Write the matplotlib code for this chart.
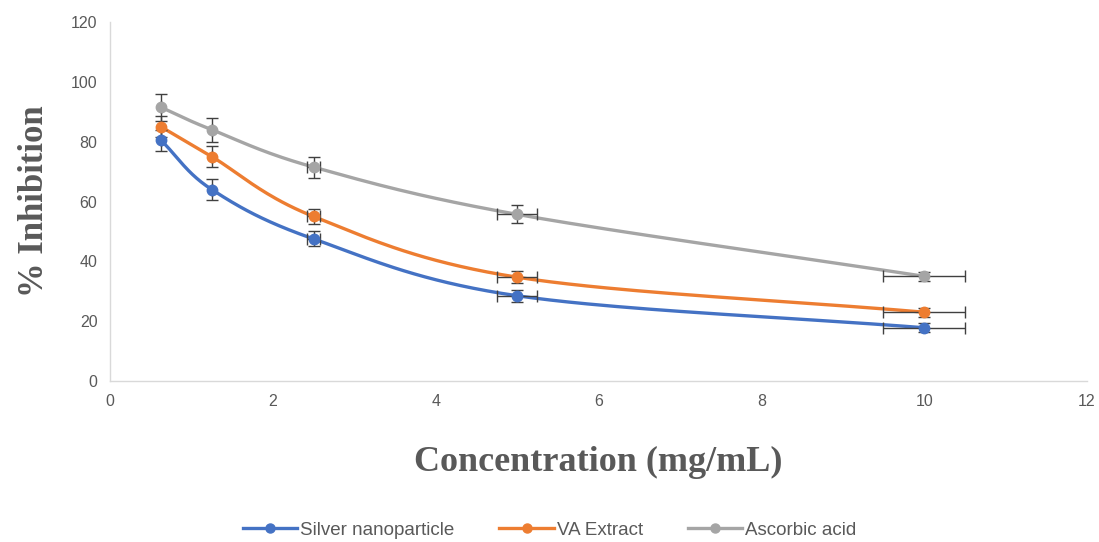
import numpy as np
import matplotlib
matplotlib.use("Agg")
import matplotlib.pyplot as plt
from matplotlib.lines import Line2D

# ── data ─────────────────────────────────────
conc = [0.625, 1.25, 2.5, 5, 10]
silver = [80.5, 64.0, 47.5, 28.5, 17.8]
va_extract = [85.0, 75.0, 55.0, 34.7, 23.0]
ascorbic = [91.5, 84.0, 71.5, 55.7, 35.0]
y_err_silver = [3.5, 3.5, 2.5, 2.0, 1.5]
y_err_va = [3.5, 3.5, 2.5, 2.0, 1.5]
y_err_asc = [4.5, 4.0, 3.5, 3.0, 1.5]
x_err = [0.0, 0.0, 0.08, 0.25, 0.5]

labels = ["Silver nanoparticle", "VA Extract", "Ascorbic acid"]
colors = ["#4472C4", "#ED7D31", "#A5A5A5"]

# pixels per unit (used only to smooth in screen-like space)
SX, SY = 81.4, 2.99


def smooth(xs, ys, n=40):
    """Catmull-Rom smoothing similar to Excel's smoothed line."""
    px = np.array(xs, float) * SX
    py = np.array(ys, float) * SY
    P = np.column_stack([px, py])
    P = np.vstack([P[0] - (P[1] - P[0]), P, P[-1] + (P[-1] - P[-2])])
    out = []
    for i in range(1, len(P) - 2):
        p0, p1, p2, p3 = P[i - 1], P[i], P[i + 1], P[i + 2]
        t = np.linspace(0, 1, n)[:, None]
        seg = 0.5 * ((2 * p1) + (-p0 + p2) * t +
                     (2 * p0 - 5 * p1 + 4 * p2 - p3) * t ** 2 +
                     (-p0 + 3 * p1 - 3 * p2 + p3) * t ** 3)
        out.append(seg)
    out = np.vstack(out)
    return out[:, 0] / SX, out[:, 1] / SY


fig = plt.figure(figsize=(10.99, 5.42), dpi=100)
ax = fig.add_axes([110 / 1099, 1 - 381 / 542, (1087 - 110) / 1099, (381 - 22) / 542])

series = [(silver, y_err_silver), (va_extract, y_err_va), (ascorbic, y_err_asc)]
for (ys, ye), col in zip(series, colors):
    sx, sy = smooth(conc, ys)
    ax.plot(sx, sy, color=col, lw=2.4, zorder=2)
    ax.errorbar(conc, ys, yerr=ye, xerr=x_err, fmt="none", ecolor="#404040",
                elinewidth=1.0, capsize=4, capthick=1.0, zorder=3)
    ax.plot(conc, ys, "o", color=col, ms=7.5, zorder=4)

ax.set_xlim(0, 12)
ax.set_ylim(0, 120)
ax.set_xticks(range(0, 13, 2))
ax.set_yticks(range(0, 121, 20))
for s in ["top", "right"]:
    ax.spines[s].set_visible(False)
for s in ["left", "bottom"]:
    ax.spines[s].set_color("#D9D9D9")
    ax.spines[s].set_linewidth(1.0)
ax.tick_params(length=0, labelsize=11.5, colors="#595959", pad=9)
for t in ax.get_xticklabels() + ax.get_yticklabels():
    t.set_family("Liberation Sans")

ax.set_xlabel("Concentration (mg/mL)", family="Liberation Serif", fontweight="bold",
              fontsize=26, color="#595959", labelpad=27)
ax.set_ylabel("% Inhibition", family="Liberation Serif", fontweight="bold",
              fontsize=25, color="#595959", labelpad=14)

handles = [Line2D([0], [0], color=c, lw=2.4, marker="o", ms=6.5) for c in colors]
fig.legend(handles, labels, loc="center", bbox_to_anchor=(0.5, 1 - 530 / 542), ncol=3,
           frameon=False, prop={"family": "Liberation Sans", "size": 13.5},
           labelcolor="#595959", handlelength=2.9, handletextpad=0.15, columnspacing=2.4)

fig.savefig("out.png", dpi=100)
